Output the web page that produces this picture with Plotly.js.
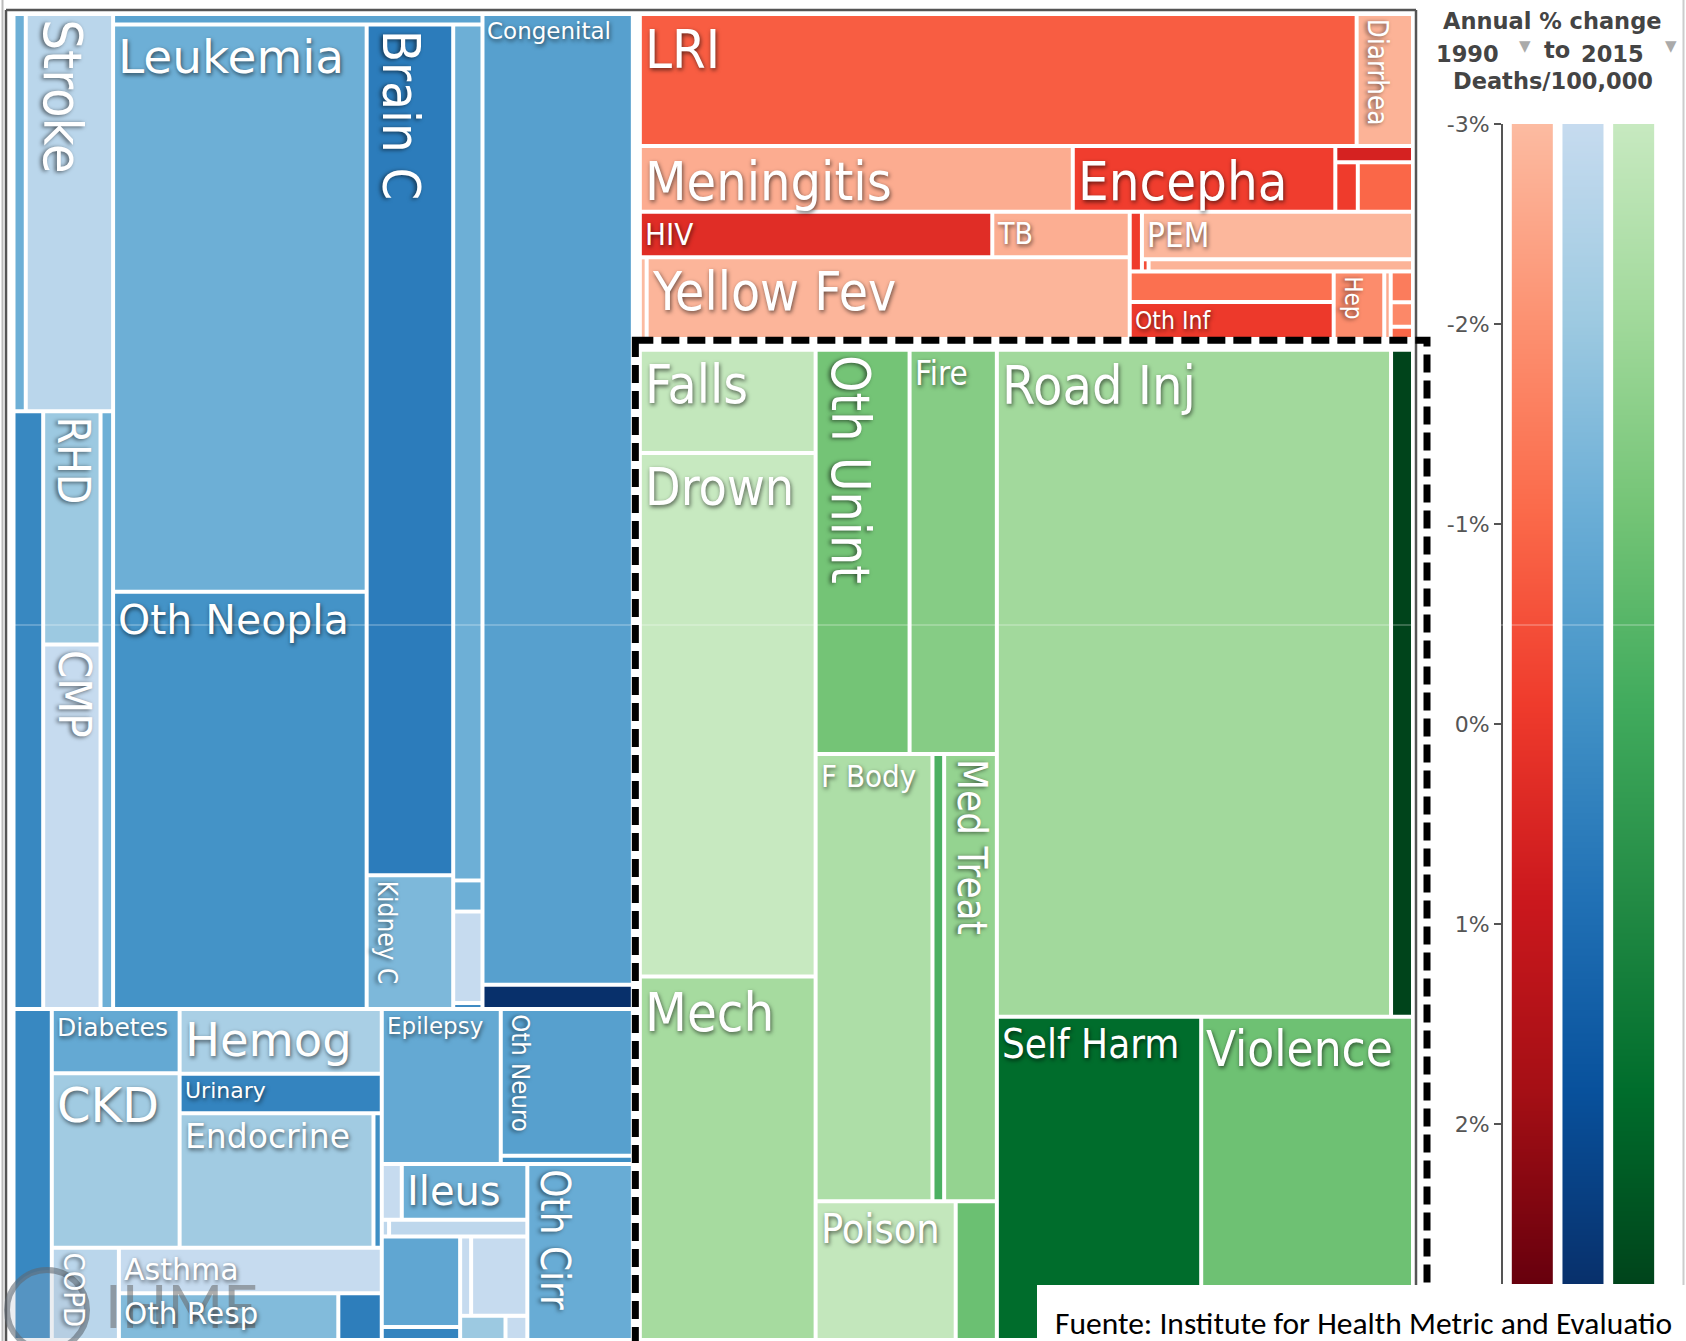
<!DOCTYPE html>
<html>
<head>
<meta charset="utf-8">
<script src="https://cdn.plot.ly/plotly-3.0.1.min.js"></script>
<style>
html,body{margin:0;padding:0;background:#ffffff;}
#chart{width:1686px;height:1341px;}
</style>
</head>
<body>
<div id="chart"></div>
<script>
// ================= DATA =================
// Non-communicable diseases (blue): ids, shown label, parent, deaths value, annual % change
const blueIds = ['B','B.w','B.top','B.cardio','B.cardio.1','Oth Cardio','Stroke','B.cardio.2','HTN HD','B.cardio.3','RHD','CMP','Endocarditis',
  'B.neo','Lymphoma','B.neo.main','B.neo.1','Leukemia','Oth Neopla','B.neo.2','Brain C','Kidney C','B.neo.3','Hodgkin','Liver C','Bone C','Eye C',
  'B.cong','Congenital','Neural Tube',
  'B.bot','Oth NCD','B.mid','B.endo','B.endo.1','Diabetes','CKD','B.endo.2','Hemog','Urinary','B.endo.3','Endocrine','Gyne',
  'B.resp','COPD','B.resp.2','Asthma','B.resp.3','Oth Resp','ILD',
  'B.right','B.neuro','Epilepsy','B.neuro.2','Oth Neuro','Mult Scl',
  'B.dig','B.dig.h','B.dig.1','PUD','Ileus','B.dig.2','Gastritis','Appendicitis','B.dig.3','B.dig.3a','Pancreatitis','Hernia','B.dig.3b','B.dig.3c','Gallbladder','Oth Digest','B.dig.3d','IBD','Vasc Intest','Oth Cirr'];
const blueLabels = ['','','','','','','Stroke','','','','RHD','CMP','',
  '','','','','Leukemia','Oth Neopla','','Brain C','Kidney C','','','','','',
  '','Congenital','',
  '','','','','','Diabetes','CKD','','Hemog','Urinary','','Endocrine','',
  '','COPD','','Asthma','','Oth Resp','',
  '','','Epilepsy','','Oth Neuro','',
  '','','','','Ileus','','','','','','','','','','','','','','','Oth Cirr'];
const blueParents = ['','B','B.w','B.top','B.cardio','B.cardio.1','B.cardio.1','B.cardio','B.cardio.2','B.cardio.2','B.cardio.3','B.cardio.3','B.cardio.2',
  'B.top','B.neo','B.neo','B.neo.main','B.neo.1','B.neo.1','B.neo.main','B.neo.2','B.neo.2','B.neo.main','B.neo.3','B.neo.3','B.neo.3','B.neo.3',
  'B.top','B.cong','B.cong',
  'B.w','B.bot','B.bot','B.mid','B.endo','B.endo.1','B.endo.1','B.endo','B.endo.2','B.endo.2','B.endo.2','B.endo.3','B.endo.3',
  'B.mid','B.resp','B.resp','B.resp.2','B.resp.2','B.resp.3','B.resp.3',
  'B.bot','B.right','B.neuro','B.neuro','B.neuro.2','B.neuro.2',
  'B.right','B.dig','B.dig.h','B.dig.1','B.dig.1','B.dig.h','B.dig.2','B.dig.2','B.dig.h','B.dig.3','B.dig.3a','B.dig.3a','B.dig.3','B.dig.3b','B.dig.3c','B.dig.3c','B.dig.3b','B.dig.3d','B.dig.3d','B.dig'];
const blueValues = [0,0,0,0,0,4.8,34.2,0,17.5,0,13.2,20.6,7.4,
  0,3.85,0,0,141.8,104.3,0,72.6,11.4,0,24.7,0.9,2.64,0.17,
  0,143.9,3.6,
  0,12.5,0,0,0,8.1,22.0,0,12.9,7.9,0,25.7,1.1,
  0,6.1,0,11.8,0,10.1,2.0,
  0,0,18.2,0,19.1,1.1,
  0,0,0,1.1,6.9,0,0.12,2.27,0,0,7.0,1.0,0,0,0.86,4.4,0,1.08,0.52,18.3];
const blueChange = [null,null,null,null,null,-1.1,-2.7,null,0.2,null,-2.0,-3.0,-1.1,
  null,-0.7,null,null,-1.1,-0.15,null,0.55,-1.4,null,-1.1,-1.1,-3.0,0.3,
  null,-0.6,2.8,
  null,0.2,null,null,null,-0.9,-2.1,null,-2.3,0.3,null,-2.1,0.0,
  null,-2.7,null,-3.0,null,-1.5,0.5,
  null,null,-0.9,null,-0.6,0.0,
  null,null,null,-3.0,-1.1,null,-2.8,-2.8,null,null,-0.8,0.3,null,null,-3.0,-3.0,null,-2.0,-3.0,-1.0];

// Communicable, maternal, neonatal & nutritional (red)
const redIds = ['R','R.w','R.1','LRI','Diarrhea','R.2','Meningitis','Encepha','R.2c','Measles','R.2d','Tetanus','Pertussis',
  'R.3','R.3L','R.3L1','HIV','TB','R.3L2','Malaria','Yellow Fev',
  'R.3R','R.3R1','Syphilis','R.3R1b','PEM','R.3R1c','Iodine Def','Oth Nutr',
  'R.3R2','R.3R2a','Neonatal Enc','Oth Inf','Hep','Typhoid','R.3R2c','Dengue','Rabies','Intest Inf'];
const redLabels = ['','','','LRI','Diarrhea','','Meningitis','Encepha','','','','','',
  '','','','HIV','TB','','','Yellow Fev',
  '','','','','PEM','','','',
  '','','','Oth Inf','Hep','','','','',''];
const redParents = ['','R','R.w','R.1','R.1','R.w','R.2','R.2','R.2','R.2c','R.2c','R.2d','R.2d',
  'R.w','R.3','R.3L','R.3L1','R.3L1','R.3L','R.3L2','R.3L2',
  'R.3','R.3R','R.3R1','R.3R1','R.3R1b','R.3R1b','R.3R1c','R.3R1c',
  'R.3R','R.3R2','R.3R2a','R.3R2a','R.3R2','R.3R2','R.3R2','R.3R2c','R.3R2c','R.3R2c'];
const redValues = [0,0,0,93.5,7.35,0,28.2,17.1,0,1.26,0,1.1,2.7,
  0,0,0,15.9,6.2,0,0.55,39.0,
  0,0,0.72,0,12.75,0,0.08,3.17,
  0,0,6.17,7.46,3.38,0.43,0,0.68,0.54,0.27];
const redChange = [null,null,null,-0.8,-2.8,null,-2.65,-0.15,null,0.6,null,-0.1,-1.0,
  null,null,null,0.3,-2.7,null,-3.0,-2.85,
  null,null,-0.1,null,-2.9,null,-0.5,-2.8,
  null,null,-1.2,-0.05,-1.9,-2.6,null,-1.5,-1.8,-1.0];

// Injuries (green)
const greenIds = ['G','G.A','Falls','Drown','Mech','G.B','G.B1','Oth Unint','Fire','G.B2','F Body','Animal','Med Treat','G.B3','Poison','Nat Disaster',
  'G.C','G.C1','Road Inj','Oth Transport','G.C2','Self Harm','Violence'];
const greenLabels = ['','','Falls','Drown','Mech','','','Oth Unint','Fire','','F Body','','Med Treat','','Poison','',
  '','','Road Inj','','','Self Harm','Violence'];
const greenParents = ['','G','G.A','G.A','G.A','G','G.B','G.B1','G.B1','G.B','G.B2','G.B2','G.B2','G.B','G.B3','G.B3',
  'G','G.C','G.C1','G.C1','G.C','G.C2','G.C2'];
const greenValues = [0,0,18.1,91.8,63.7,0,0,37.9,35.2,0,52.1,5.2,23.5,0,19.4,5.7,
  0,0,262.2,14.6,0,65.9,68.3];
const greenChange = [null,null,-2.9,-3.0,-2.15,null,null,-1.07,-1.45,null,-2.35,-0.3,-1.75,null,-2.9,-0.9,
  null,null,-2.05,2.8,null,1.83,-0.95];

// Colour-scale legend
const scaleRange = [-3, 2.8];
const scaleTickVals = [-3, -2, -1, 0, 1, 2];
const scaleTickText = ['-3%', '-2%', '-1%', '0%', '1%', '2%'];

// ================= STYLE =================
const W = 1686, H = 1341;
const px = x => x / W;
const py = y => 1 - y / H;
const REDS = ['#fcbba1','#fc9272','#fb6a4a','#ef3b2c','#cb181d','#a50f15','#67000d'];
const BLUES = ['#c6dbef','#9ecae1','#6baed6','#4292c6','#2171b5','#08519c','#08306b'];
const GREENS = ['#c7e9c0','#a1d99b','#74c476','#41ab5d','#238b45','#006d2c','#00441b'];
const toScale = arr => arr.map((c, i) => [i / (arr.length - 1), c]);
const SHADOW = '1px 2px 4px rgba(0,0,0,0.6)';
const FONT_N = 'DejaVu Sans';
const FONT_C = 'DejaVu Sans Condensed, DejaVu Sans';
const labelSize = {Leukemia:47,'Oth Neopla':41,Congenital:23,Diabetes:25,Hemog:46.5,Urinary:22,CKD:48,Endocrine:33,Epilepsy:23,Ileus:40,Asthma:30,'Oth Resp':29.5,
  LRI:54,Meningitis:53.5,Encepha:54,HIV:31,TB:30,PEM:33,'Yellow Fev':53,'Oth Inf':24.5,
  Falls:53,Drown:51.5,'Road Inj':53.5,Fire:33,'F Body':31,Mech:54,Poison:41,'Self Harm':40,Violence:49,
  Stroke:54,'Brain C':52,RHD:44,CMP:45,'Kidney C':26,'Oth Neuro':25.5,'Oth Cirr':40,COPD:29,Diarrhea:27.5,Hep:24,'Oth Unint':53,'Med Treat':40};
const vertical = new Set(['Stroke','Brain C','RHD','CMP','Kidney C','Oth Neuro','Oth Cirr','COPD','Diarrhea','Hep','Oth Unint','Med Treat']);
const normalWidth = new Set(blueIds.filter(id => !vertical.has(id)));

// layout frame (pixels)
const X0 = 15.5, X1 = 1411, Y0 = 16, Y1 = 1338, GAPX = 11, GAPY = 14.7;
const sum = a => a.reduce((s, v) => s + v, 0);
const sB = sum(blueValues), sR = sum(redValues), sG = sum(greenValues);
const xSplit = X0 + (X1 - X0 - GAPX) * sB / (sB + sR + sG);
const ySplit = Y0 + (Y1 - Y0 - GAPY) * sR / (sR + sG);
const blueBox = [X0, xSplit, Y0, Y1];
const redBox = [xSplit + GAPX, X1, Y0, ySplit];
const greenBox = [xSplit + GAPX, X1, ySplit + GAPY, Y1];
const dom = b => ({x: [px(b[0]), px(b[1])], y: [py(b[3]), py(b[2])]});

function treemap(ids, labels, parents, values, change, palette, box) {
  return {
    type: 'treemap', ids: ids, labels: labels, parents: parents, values: values,
    branchvalues: 'remainder', sort: false, textinfo: 'none',
    marker: {colors: change.map(c => c === null ? '#ffffff' : c), colorscale: toScale(palette),
      cmin: scaleRange[0], cmax: scaleRange[1], showscale: false,
      line: {width: 0, color: '#ffffff'}, pad: {t: 0, l: 0, r: 0, b: 0}},
    leaf: {opacity: 1},
    tiling: {packing: 'slice-dice', pad: 4},
    pathbar: {visible: false},
    domain: dom(box), hoverinfo: 'none'
  };
}

const data = [
  treemap(blueIds, blueLabels, blueParents, blueValues, blueChange, BLUES, blueBox),
  treemap(redIds, redLabels, redParents, redValues, redChange, REDS, redBox),
  treemap(greenIds, greenLabels, greenParents, greenValues, greenChange, GREENS, greenBox)
];
[REDS, BLUES, GREENS].forEach((pal, i) => {
  data.push({type: 'heatmap', x: [i - 0.405, i, i + 0.405], y: scaleRange,
    z: [[scaleRange[0], scaleRange[0]], [scaleRange[1], scaleRange[1]]],
    zmin: scaleRange[0], zmax: scaleRange[1], colorscale: toScale(pal), showscale: false,
    zsmooth: 'best', hoverinfo: 'skip', xaxis: 'x', yaxis: 'y'});
});

const titleFont = {family: FONT_N, size: 22.5, color: '#444444', weight: 'bold'};
const ann = (text, x, y, xa, font, extra) => Object.assign({text: text, x: px(x), y: py(y), xref: 'paper', yref: 'paper',
  xanchor: xa, yanchor: 'middle', showarrow: false, borderpad: 0, font: font}, extra || {});
const annotations = [
  ann('Annual % change', 1552, 21, 'center', titleFont),
  ann('1990', 1435, 54, 'left', titleFont),
  ann('\u25BC', 1525, 46, 'center', {family: FONT_N, size: 15, color: '#aaaaaa'}),
  ann('to', 1557, 50, 'center', titleFont),
  ann('2015', 1580, 54, 'left', titleFont),
  ann('\u25BC', 1671, 46, 'center', {family: FONT_N, size: 15, color: '#aaaaaa'}),
  ann('Deaths/100,000', 1553, 81, 'center', titleFont),
  ann('IHME', 104, 1268, 'left', {family: 'Lato', size: 60, color: 'rgba(105,105,105,0.55)'}, {yanchor: 'top'}),
  ann('Fuente: Institute for Health Metric and Evaluatio', 1054, 1323, 'left', {family: 'Carlito, Lato', size: 31.5, color: '#000000'})
];

const line = (x0, y0, x1, y1, color, width) => ({type: 'line', xref: 'paper', yref: 'paper',
  x0: px(x0), y0: py(y0), x1: px(x1), y1: py(y1), line: {color: color, width: width}, layer: 'above'});
const shapes = [
  line(0, 625, W, 625, 'rgba(255,255,255,0.45)', 1),
  line(2.5, 0, 2.5, H, '#bbbbbb', 2),
  line(1683.5, 0, 1683.5, H, '#cccccc', 2),
  line(6, 10, 1416, 10, '#555555', 2.5),
  line(6, 10, 6, H + 5, '#555555', 2.5),
  line(1416, 10, 1416, H + 5, '#555555', 2.5),
  {type: 'rect', xref: 'paper', yref: 'paper', x0: px(greenBox[0] - 6.5), x1: px(greenBox[1] + 16),
    y0: py(greenBox[2] - 11.5), y1: py(H + 10), line: {color: '#000000', width: 7, dash: '18px,8px'},
    fillcolor: 'rgba(0,0,0,0)', layer: 'above'},
  {type: 'circle', xref: 'paper', yref: 'paper', x0: px(7), x1: px(87), y0: py(1270), y1: py(1350),
    line: {color: 'rgba(95,105,115,0.6)', width: 6}, fillcolor: 'rgba(170,185,200,0.25)', layer: 'above'},
  {type: 'rect', xref: 'paper', yref: 'paper', x0: px(1037), x1: px(W + 5), y0: py(1285), y1: py(H + 5),
    line: {width: 0}, fillcolor: '#ffffff', layer: 'above'}
];

const layout = {
  width: W, height: H, margin: {l: 0, r: 0, t: 0, b: 0, pad: 0},
  paper_bgcolor: '#ffffff', plot_bgcolor: '#ffffff', showlegend: false,
  font: {family: FONT_N},
  xaxis: {domain: [px(1507), px(1659)], range: [-0.5, 2.5], visible: false, fixedrange: true, anchor: 'y'},
  yaxis: {domain: [py(1284), py(124)], range: [scaleRange[1], scaleRange[0]], anchor: 'free', position: px(1502), side: 'left',
    tickvals: scaleTickVals, ticktext: scaleTickText, ticks: 'outside', ticklen: 7, tickwidth: 2, tickcolor: '#555555',
    showline: true, linecolor: '#555555', linewidth: 2, showgrid: false, zeroline: false, fixedrange: true,
    tickfont: {family: FONT_N, size: 22, color: '#555555'}},
  shapes: shapes,
  annotations: annotations
};

const labelOf = {};
[[blueIds, blueLabels], [redIds, redLabels], [greenIds, greenLabels]].forEach(p => p[0].forEach((id, i) => { labelOf[id] = p[1][i]; }));

// tile labels are placed on the tiles that the treemap itself laid out
const gd = document.getElementById('chart');
Plotly.newPlot(gd, data, layout, {staticPlot: true}).then(function () {
  const base = gd.getBoundingClientRect();
  const extra = [];
  gd.querySelectorAll('g.slice').forEach(function (el) {
    const pt = el.__data__;
    if (!pt) return;
    const id = (pt.data && pt.data.data && pt.data.data.id) || (pt.data && pt.data.id) || pt.id;
    if (!labelOf[id]) return;
    const path = el.querySelector('path');
    if (!path) return;
    const r = path.getBoundingClientRect();
    const isV = vertical.has(id);
    extra.push({text: labelOf[id], xref: 'paper', yref: 'paper',
      x: px(r.left - base.left + 3), y: py(r.top - base.top + (isV ? 3 : 2)), xanchor: 'left', yanchor: 'top',
      textangle: isV ? 90 : 0, showarrow: false, borderpad: 0, borderwidth: 0,
      font: {family: (!isV && normalWidth.has(id)) ? FONT_N : FONT_C, size: labelSize[id], color: '#ffffff', shadow: SHADOW}});
  });
  return Plotly.relayout(gd, {annotations: annotations.concat(extra)});
});
</script>
</body>
</html>
